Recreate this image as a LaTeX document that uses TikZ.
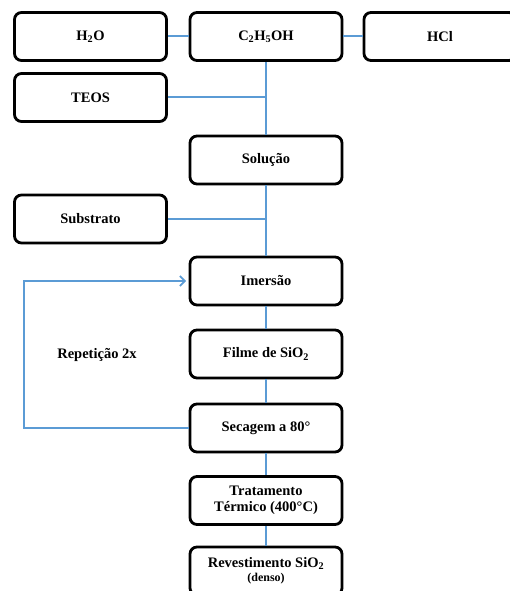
\documentclass[tikz,border=0pt]{standalone}
\usepackage{fontspec}
\setmainfont{Liberation Serif}
\usetikzlibrary{arrows.meta,shadows}
\definecolor{lnblue}{HTML}{5B9BD5}
\begin{document}
\begin{tikzpicture}[x=1pt,y=-1pt,
  box/.style={draw=black, line width=2.8pt, rounded corners=7pt, fill=white,
    minimum width=152pt, minimum height=48pt, align=center,
    font=\fontsize{14.5}{16}\selectfont\bfseries,
    drop shadow={shadow xshift=1.2pt, shadow yshift=-1.2pt, opacity=0.25, fill=gray}},
  conn/.style={draw=lnblue, line width=2pt},
  lbl/.style={font=\fontsize{14.5}{16}\selectfont\bfseries}]
\useasboundingbox (0,0) rectangle (510,591);
\clip (0,0) rectangle (510,591);
% nodes
\node[box] (h2o) at (90.5,36.5) {H\textsubscript{2}O};
\node[box] (eth) at (266,36.5) {C\textsubscript{2}H\textsubscript{5}OH};
\node[box] (hcl) at (440,36.5) {HCl};
\node[box] (teos) at (90.5,97.5) {TEOS};
\node[box] (sol) at (266,160) {Solução};
\node[box] (sub) at (90.5,219) {Substrato};
\node[box] (ime) at (266,281) {Imersão};
\node[box] (fil) at (266,354) {Filme de SiO\textsubscript{2}};
\node[box] (sec) at (266,428) {Secagem a 80°};
\node[box] (tra) at (266,500.5) {Tratamento\\Térmico (400°C)};
\node[box] (rev) at (266,571) {Revestimento SiO\textsubscript{2}\\[-2pt]{\fontsize{12}{13}\selectfont (denso)}};
\node[lbl] (rep) at (97,355) {Repetição 2x};
\coordinate (loopA) at (24,428);
\coordinate (loopB) at (24,281);
\coordinate (loopC) at (186,281);
% connectors
\draw[conn] (h2o.east) -- (eth.west);
\draw[conn] (eth.east) -- (hcl.west);
\draw[conn] (eth.south) -- (sol.north);
\draw[conn] (teos.east) -- (teos.east -| eth.south);
\draw[conn] (sol.south) -- (ime.north);
\draw[conn] (sub.east) -- (sub.east -| sol.south);
\draw[conn] (ime.south) -- (fil.north);
\draw[conn] (fil.south) -- (sec.north);
\draw[conn] (sec.south) -- (tra.north);
\draw[conn] (tra.south) -- (rev.north);
\draw[conn, -{Straight Barb[length=5pt,width=10pt,line width=1.6pt]}] (sec.west) -- (loopA) -- (loopB) -- (loopC);
\end{tikzpicture}
\end{document}
